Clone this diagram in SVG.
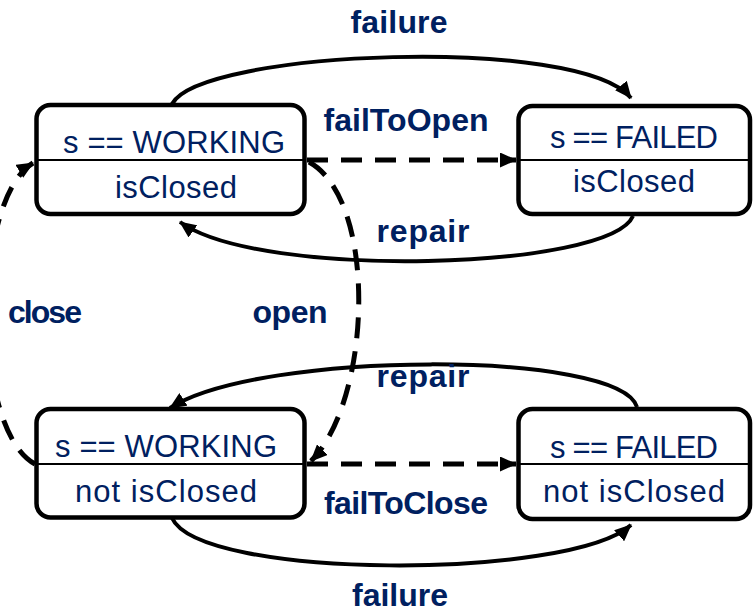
<svg xmlns="http://www.w3.org/2000/svg" width="753" height="614" viewBox="0 0 753 614">
<style>
.box{fill:#fff;stroke:#000;stroke-width:4.5}
.div{stroke:#000;stroke-width:2}
.nt{font-family:"Liberation Sans",Arial,sans-serif;font-size:31px;fill:#002060;text-anchor:middle}
.lb{font-family:"Liberation Sans",Arial,sans-serif;font-size:32px;font-weight:bold;fill:#002060;text-anchor:middle}
.c{fill:none;stroke:#000;stroke-width:4}
.d{fill:none;stroke:#000;stroke-width:5;stroke-dasharray:21 13}
</style>
<defs>
<marker id="ah" markerUnits="userSpaceOnUse" markerWidth="17" markerHeight="15" viewBox="0 0 17 15" refX="16" refY="7.5" orient="auto">
<path d="M0,0 L17,7.5 L0,15 z" fill="#000"/>
</marker>
</defs>
<g id="connectors">
<g id="e-failure-top"><path class="c" d="M172,104 C200,50 580,35 631,98" marker-end="url(#ah)"/><text class="lb" x="399" y="33" textLength="97">failure</text></g>
<g id="e-repair-top"><path class="c" d="M633,216 C610,270 260,280 180,222" marker-end="url(#ah)"/><text class="lb" x="423" y="242" textLength="93">repair</text></g>
<g id="e-failToOpen"><path class="d" d="M307,160 L516,160" marker-end="url(#ah)"/><text class="lb" x="406" y="131" textLength="165">failToOpen</text></g>
<g id="e-failToClose"><path class="d" d="M307,464 L516,464" marker-end="url(#ah)"/><text class="lb" x="406" y="514" textLength="164">failToClose</text></g>
<g id="e-repair-bottom"><path class="c" d="M637,407 C620,350 260,350 170,408" marker-end="url(#ah)"/><text class="lb" x="423" y="387" textLength="93">repair</text></g>
<g id="e-failure-bottom"><path class="c" d="M172,518 C200,580 570,580 631,525" marker-end="url(#ah)"/><text class="lb" x="400" y="606" textLength="96">failure</text></g>
<g id="e-open"><path class="d" d="M309,162 C378,200 372,400 311,461" marker-end="url(#ah)"/><text class="lb" x="290" y="323" textLength="75">open</text></g>
<g id="e-close"><path class="d" d="M35,464 C-28,430 -28,200 33,163" marker-end="url(#ah)"/><text class="lb" x="45" y="323" textLength="74">close</text></g>
</g>
<g id="n-working-closed">
<rect class="box" x="36.5" y="105" width="268" height="109" rx="14"/>
<line class="div" x1="36.5" y1="160" x2="304.5" y2="160"/>
<text class="nt" x="174" y="153" textLength="222">s == WORKING</text>
<text class="nt" x="176" y="198" textLength="122">isClosed</text>
</g>
<g id="n-failed-closed">
<rect class="box" x="518.5" y="106" width="231.5" height="108" rx="14"/>
<line class="div" x1="518.5" y1="160" x2="750" y2="160"/>
<text class="nt" x="634" y="148" textLength="168">s == FAILED</text>
<text class="nt" x="634" y="192" textLength="122">isClosed</text>
</g>
<g id="n-working-open">
<rect class="box" x="36.5" y="409" width="268" height="108.5" rx="14"/>
<line class="div" x1="36.5" y1="464" x2="304.5" y2="464"/>
<text class="nt" x="166" y="457" textLength="222">s == WORKING</text>
<text class="nt" x="166" y="502" textLength="182">not isClosed</text>
</g>
<g id="n-failed-open">
<rect class="box" x="518.5" y="409" width="231.5" height="110" rx="14"/>
<line class="div" x1="518.5" y1="464" x2="750" y2="464"/>
<text class="nt" x="634" y="458" textLength="168">s == FAILED</text>
<text class="nt" x="634" y="502" textLength="182">not isClosed</text>
</g>
</svg>
